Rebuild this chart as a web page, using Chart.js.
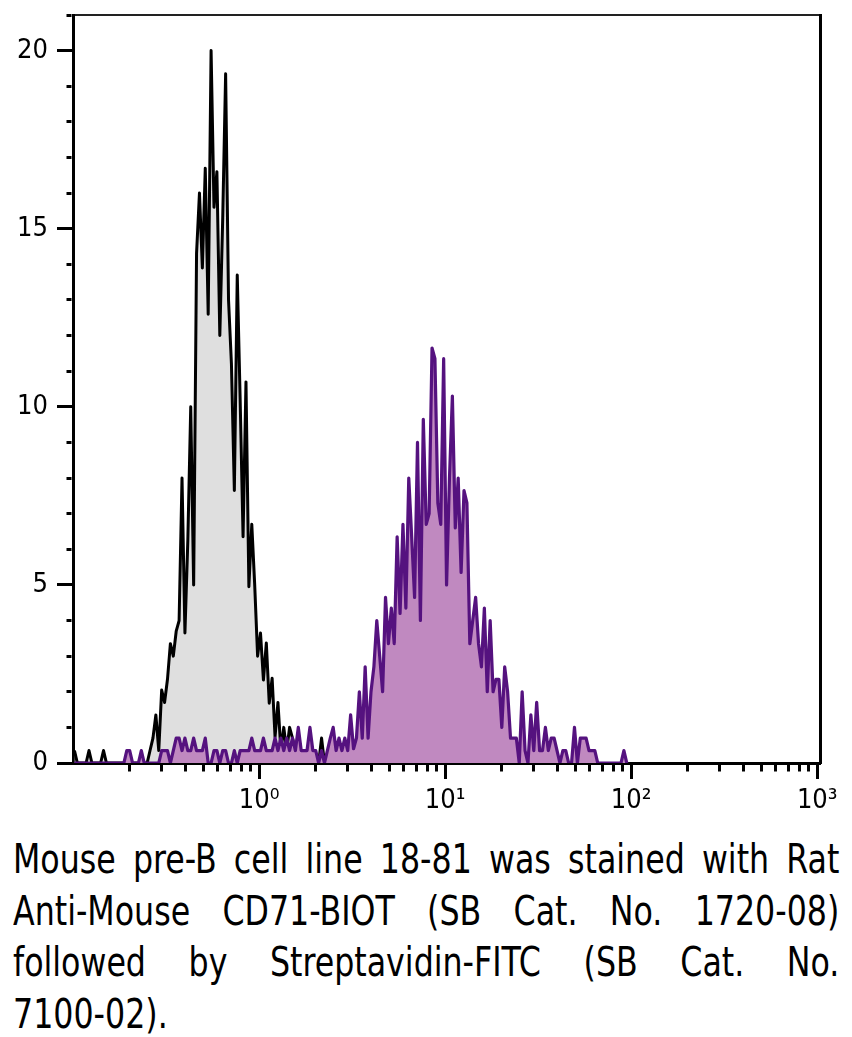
<!DOCTYPE html>
<html>
<head>
<meta charset="utf-8">
<script src="https://cdn.jsdelivr.net/npm/chart.js@4.4.1/dist/chart.umd.min.js"></script>
<style>
  html, body { margin: 0; padding: 0; background: #fff; }
  #wrap { position: relative; width: 852px; height: 1037px; overflow: hidden; }
  #chart { position: absolute; left: 0; top: 0; }
  #caption {
    position: absolute; left: 13px; top: 834px; width: 939px;
    transform: scaleX(0.88); transform-origin: 0 0;
    font-family: "DejaVu Sans Condensed", "DejaVu Sans", sans-serif;
    font-size: 40px; line-height: 51.5px; color: #000;
  }
  #caption div { text-align: justify; text-align-last: justify; white-space: nowrap; }
  #caption div.last { text-align-last: left; }
</style>
</head>
<body>
<div id="wrap">
  <canvas id="chart" width="852" height="830"></canvas>
  <div id="caption">
    <div>Mouse pre-B cell line 18-81 was stained with Rat</div>
    <div>Anti-Mouse CD71-BIOT (SB Cat. No. 1720-08)</div>
    <div>followed by Streptavidin-FITC (SB Cat. No.</div>
    <div class="last">7100-02).</div>
  </div>
</div>
<script>
  // histogram channels: 64 per decade, starting at 10^-1
  const CHANNELS_PER_DECADE = 64;
  const FIRST_DECADE = -1;

  // unstained control (black outline, grey fill)
  const unstained = [
    0.35, 0, 0, 0, 0, 0.35, 0, 0, 0, 0,
    0.35, 0, 0, 0, 0, 0, 0, 0, 0, 0,
    0, 0, 0, 0, 0, 0, 0.35, 0.7, 1.35, 0.35,
    2.05, 1.7, 2.35, 3.35, 3.0, 3.7, 4.0, 8.0, 3.65, 6.25,
    10.0, 5.0, 14.3, 16.0, 13.9, 16.7, 12.6, 20.0, 15.6, 16.6,
    12.0, 15.3, 19.35, 13.0, 11.2, 7.65, 13.7, 10.2, 6.35, 10.7,
    4.95, 6.7, 5.0, 3.0, 3.65, 2.33, 3.37, 1.68, 2.38, 0.73,
    1.7, 0.36, 1.0, 0.35, 1.0, 0.7, 0.35, 0.35, 0.35, 0.35,
    0, 0.35, 0, 0, 0, 0.7, 0,
  ];

  // CD71-BIOT + Streptavidin-FITC (purple)
  const cd71Biot = [
    0, 0, 0, 0, 0, 0, 0, 0, 0, 0,
    0, 0, 0, 0, 0, 0, 0, 0, 0.35, 0.35,
    0, 0, 0, 0.35, 0, 0, 0, 0, 0, 0,
    0.35, 0.35, 0.35, 0, 0.35, 0.7, 0.7, 0.35, 0.7, 0.35,
    0.35, 0.7, 0.35, 0.35, 0.35, 0.7, 0, 0, 0.35, 0.35,
    0, 0.35, 0.35, 0, 0, 0.35, 0, 0.35, 0.35, 0.35,
    0.35, 0.7, 0.35, 0.35, 0.35, 0.7, 0.35, 0.35, 0.35, 0.7,
    0.35, 0.7, 0.35, 0.7, 0.35, 0.7, 0.35, 1.0, 0.35, 0.35,
    0.35, 1.0, 0.35, 0.35, 0, 0.35, 0, 0.35, 0.7, 1.0,
    0.35, 0.7, 0.35, 0.7, 0.35, 1.35, 0.4, 0.7, 2.0, 0.7,
    2.7, 0.7, 2.0, 2.7, 4.0, 3.0, 2.0, 4.65, 3.35, 4.35,
    3.35, 6.35, 4.2, 6.7, 4.35, 8.0, 6.35, 4.65, 9.0, 4.0,
    9.65, 6.7, 7.0, 11.65, 11.35, 7.3, 6.7, 11.35, 5.0, 8.0,
    10.3, 6.6, 8.0, 5.35, 7.65, 7.3, 3.35, 4.0, 4.65, 3.35,
    2.7, 4.35, 2.0, 4.0, 2.0, 2.35, 2.35, 1.0, 2.7, 2.0,
    0.7, 0.7, 0.7, 0, 2.0, 0.35, 0, 1.35, 0.35, 1.7,
    0.35, 0.35, 1.0, 0.35, 0.7, 0.7, 0.35, 0, 0.35, 0.35,
    0, 0, 1.0, 0, 0.7, 0.7, 0.7, 0.35, 0.35, 0.35,
    0, 0, 0, 0, 0, 0, 0, 0, 0, 0.35,
    0,
  ];

  const xTicks = [
    0.2, 0.3, 0.4, 0.5, 0.6, 0.7, 0.8, 0.9,
    1, 2, 3, 4, 5, 6, 7, 8, 9,
    10, 20, 30, 40, 50, 60, 70, 80, 90,
    100, 200, 300, 400, 500, 600, 700, 800, 900,
    1000,
  ];
  const xLabels = { 1: '10\u2070', 10: '10\u00b9', 100: '10\u00b2', 1000: '10\u00b3' };
  const yLabels = [0, 5, 10, 15, 20];

  const toPoints = function (counts) {
    return counts.map(function (y, i) {
      return { x: Math.pow(10, FIRST_DECADE + (i + 0.5) / CHANNELS_PER_DECADE), y: y };
    });
  };

  const noPadding = function (axis) {
    axis.paddingTop = 0;
    axis.paddingBottom = 0;
    axis.paddingLeft = 0;
    axis.paddingRight = 0;
  };

  Chart.defaults.font.family = '"DejaVu Sans Condensed", "DejaVu Sans", sans-serif';
  Chart.defaults.font.size = 27;
  Chart.defaults.color = '#000';

  const TICK_MAJOR = 16;

  const ctx = document.getElementById('chart').getContext('2d');

  new Chart(ctx, {
    type: 'line',
    data: {
      datasets: [
        {
          label: 'CD71-BIOT',
          data: toPoints(cd71Biot),
          borderColor: '#55127f',
          backgroundColor: '#c089c0',
          borderWidth: 3.2,
          borderJoinStyle: 'round',
          pointRadius: 0,
          fill: 'origin',
          order: 1,
        },
        {
          label: 'Unstained',
          data: toPoints(unstained),
          borderColor: '#000',
          backgroundColor: '#dfdfdf',
          borderWidth: 3,
          borderJoinStyle: 'round',
          pointRadius: 0,
          fill: 'origin',
          order: 2,
        },
      ],
    },
    options: {
      responsive: false,
      animation: false,
      devicePixelRatio: 1,
      layout: { padding: 0 },
      plugins: {
        legend: { display: false },
        tooltip: { enabled: false },
      },
      scales: {
        x: {
          type: 'logarithmic',
          position: 'bottom',
          min: 0.1,
          max: 1035,
          z: 1,
          afterBuildTicks: function (axis) {
            axis.ticks = xTicks.map(function (v) { return { value: v }; });
          },
          afterFit: function (axis) { axis.height = 67; noPadding(axis); },
          border: { display: true, width: 3, color: '#000' },
          grid: {
            drawOnChartArea: false,
            drawTicks: true,
            tickLength: TICK_MAJOR,
            tickWidth: 3,
            tickColor: '#000',
            tickBorderDash: function (c) {
              return xLabels[c.tick.value] ? [] : [6.5, 100];
            },
          },
          ticks: {
            autoSkip: false,
            maxRotation: 0,
            padding: 6,
            callback: function (v) { return xLabels[v] || ''; },
          },
        },
        xTop: {
          type: 'linear',
          position: 'top',
          afterFit: function (axis) { axis.height = 15; noPadding(axis); },
          border: { display: true, width: 2, color: '#222' },
          grid: { display: false, drawTicks: false },
          ticks: { display: false },
        },
        y: {
          type: 'linear',
          position: 'left',
          min: 0,
          max: 21,
          z: 1,
          afterFit: function (axis) { axis.width = 73; noPadding(axis); },
          border: { display: true, width: 3, color: '#000' },
          grid: {
            drawOnChartArea: false,
            drawTicks: true,
            tickLength: TICK_MAJOR,
            tickWidth: 3,
            tickColor: '#000',
            tickBorderDash: function (c) {
              return yLabels.includes(c.tick.value) ? [] : [5, 100];
            },
            tickBorderDashOffset: function (c) {
              return yLabels.includes(c.tick.value) ? 0 : 95.5;
            },
          },
          ticks: {
            stepSize: 1,
            autoSkip: false,
            padding: 9,
            callback: function (v) { return yLabels.includes(v) ? String(v) : ''; },
          },
        },
        y2: {
          type: 'linear',
          position: 'right',
          afterFit: function (axis) { axis.width = 32; noPadding(axis); },
          border: { display: true, width: 3, color: '#000' },
          grid: { display: false, drawTicks: false },
          ticks: { display: false },
        },
      },
    },
  });
</script>
</body>
</html>
